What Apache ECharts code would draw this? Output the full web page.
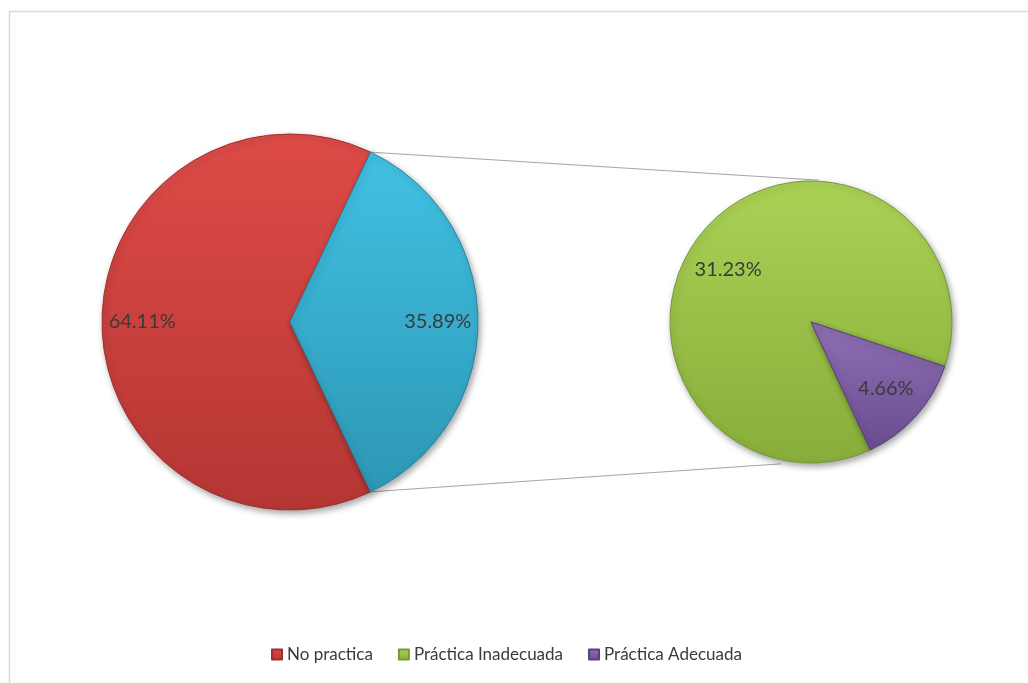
<!DOCTYPE html>
<html>
<head>
<meta charset="utf-8">
<script src="https://cdn.jsdelivr.net/npm/echarts@6/dist/echarts.min.js"></script>
<style>
  html, body { margin: 0; padding: 0; background: #ffffff; }
  #chart { width: 1028px; height: 683px; }
</style>
</head>
<body>
<div id="chart"></div>
<script>
// Categories shown in the legend
const categories = ['No practica', 'Práctica Inadecuada', 'Práctica Adecuada'];
// Share of people who do not practise (main pie, left)
const noPracticeValue = [64.11];
// Breakdown of those who practise (secondary pie, right)
const practiceValues = [31.23, 4.66];
// Name of the grouped slice in the main pie
const groupedName = 'Practica';

// ---- layout / style ----
const FONT = 'Lato, "Open Sans", sans-serif';
const TEXT = '#3a3a3a';
const mainCenter = [290, 322], mainR = 188;
const subCenter = [811, 322], subR = 141;

function grad(top, bottom) {
  return new echarts.graphic.LinearGradient(0, 0, 0, 1, [
    { offset: 0, color: top },
    { offset: 1, color: bottom }
  ]);
}
const styles = {
  'No practica': { color: grad('#de4b48', '#b53633'), borderColor: '#9e2f2c' },
  'Práctica Inadecuada': { color: grad('#abd255', '#88ad3b'), borderColor: '#76973a' },
  'Práctica Adecuada': { color: grad('#8e6fb5', '#6a4c8f'), borderColor: '#5a407c' }
};
styles[groupedName] = { color: grad('#41c1e3', '#2d97b5'), borderColor: '#27859f' };

const shadow = { shadowBlur: 6, shadowOffsetX: 2, shadowOffsetY: 3, shadowColor: 'rgba(0,0,0,0.35)' };

const groupedValue = practiceValues.reduce((a, b) => a + b, 0);
const mainData = [
  { name: categories[0], value: noPracticeValue[0] },
  { name: groupedName, value: +groupedValue.toFixed(2) }
];
const subData = [
  { name: categories[1], value: practiceValues[0] },
  { name: categories[2], value: practiceValues[1] }
];

function styled(data) {
  return data.map(d => ({
    name: d.name,
    value: d.value,
    itemStyle: Object.assign({ borderWidth: 1 }, styles[d.name], shadow)
  }));
}

// Grouped slice centred on the 3 o'clock direction
const groupedSweep = groupedValue / (noPracticeValue[0] + groupedValue) * 360;
const mainStart = 360 - groupedSweep / 2;
const subStart = 294.9;

const labelStyle = {
  show: true,
  position: 'inside',
  color: TEXT,
  fontFamily: FONT,
  fontSize: 20,
  formatter: p => p.value.toFixed(2) + '%'
};

function toXY(center, r, deg) {
  const a = deg * Math.PI / 180;
  return [center[0] + r * Math.cos(a), center[1] - r * Math.sin(a)];
}

// Connector lines from the grouped slice to the secondary pie
const half = groupedSweep / 2;
const p1 = toXY(mainCenter, mainR, half);
const p2 = toXY(mainCenter, mainR, -half);
const q1 = toXY(subCenter, subR + 1, 87);
const q2 = toXY(subCenter, subR + 4, -102);

const chart = echarts.init(document.getElementById('chart'), null, { renderer: 'canvas' });
chart.setOption({
  backgroundColor: '#ffffff',
  animation: false,
  legend: {
    data: categories,
    left: 266,
    top: 641,
    itemWidth: 10,
    itemHeight: 10,
    itemGap: 25,
    icon: 'rect',
    textStyle: { color: TEXT, fontFamily: FONT, fontSize: 17 }
  },
  graphic: [
    {
      type: 'rect', z: -1,
      shape: { x: 9.5, y: 11.5, width: 1040, height: 700 },
      style: { fill: 'none', stroke: '#d9d9d9', lineWidth: 1.5 }
    },
    {
      type: 'line', z: 0,
      shape: { x1: p1[0], y1: p1[1], x2: q1[0], y2: q1[1] },
      style: { stroke: '#a6a6a6', lineWidth: 1 }
    },
    {
      type: 'line', z: 0,
      shape: { x1: p2[0], y1: p2[1], x2: q2[0], y2: q2[1] },
      style: { stroke: '#a6a6a6', lineWidth: 1 }
    }
  ],
  series: [
    {
      type: 'pie', name: 'main',
      center: mainCenter, radius: mainR,
      startAngle: mainStart, clockwise: true,
      data: styled(mainData),
      label: { show: false }, labelLine: { show: false },
      emphasis: { disabled: true }, silent: true
    },
    {
      type: 'pie', name: 'sub',
      center: subCenter, radius: subR,
      startAngle: subStart, clockwise: true,
      data: styled(subData),
      label: { show: false }, labelLine: { show: false },
      emphasis: { disabled: true }, silent: true
    },
    {
      type: 'pie', name: 'mainLabels',
      center: mainCenter, radius: [mainR * 0.54, mainR],
      startAngle: mainStart, clockwise: true,
      data: mainData,
      itemStyle: { color: 'rgba(0,0,0,0)' },
      label: labelStyle, labelLine: { show: false },
      emphasis: { disabled: true }, silent: true
    },
    {
      type: 'pie', name: 'subLabels',
      center: subCenter, radius: [subR * 0.38, subR],
      startAngle: subStart, clockwise: true,
      data: subData,
      itemStyle: { color: 'rgba(0,0,0,0)' },
      label: labelStyle, labelLine: { show: false },
      labelLayout: p => (p.dataIndex === 0 ? { dx: -8, dy: 14 } : {}),
      emphasis: { disabled: true }, silent: true
    }
  ]
});
</script>
</body>
</html>
